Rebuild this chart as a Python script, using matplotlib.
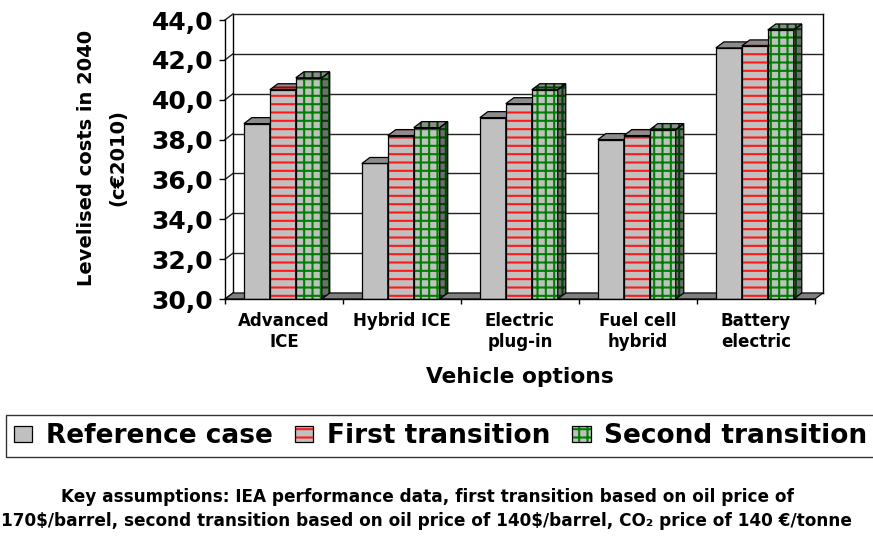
import matplotlib
matplotlib.use("Agg")
import matplotlib.pyplot as plt
from matplotlib.patches import Polygon, Patch
from matplotlib.legend_handler import HandlerTuple

# ------------------------------------------------
# Data
# ------------------------------------------------
categories = ["Advanced\nICE", "Hybrid ICE", "Electric\nplug-in", "Fuel cell\nhybrid", "Battery\nelectric"]
series = ["Reference case", "First transition", "Second transition"]
reference = [38.8, 36.8, 39.1, 38.0, 42.6]
first = [40.5, 38.2, 39.8, 38.2, 42.7]
second = [41.1, 38.6, 40.5, 38.5, 43.5]
yticks = [30, 32, 34, 36, 38, 40, 42, 44]
ytick_labels = [f"{v:.1f}".replace(".", ",") for v in yticks]

# styles per series: face, hatch colour, hatch, top/side hatch colour
face = "#c0c0c0"
hatch_col = ["#c0c0c0", "#ff1a1a", "#008000"]
dark_col = ["#8c8c8c", "#a00000", "#004000"]
hatches = ["", "--", "++"]

plt.rcParams["font.family"] = "DejaVu Sans"
plt.rcParams["font.weight"] = "bold"
plt.rcParams["hatch.linewidth"] = 1.5

W, H = 873, 540
fig = plt.figure(figsize=(W / 100, H / 100), dpi=100)
fig.patch.set_facecolor("white")

# front axis frame in pixels
x_left, x_right, y_bot, y_top = 225, 815, 299, 20
ax = fig.add_axes([x_left / W, 1 - y_bot / H, (x_right - x_left) / W, (y_bot - y_top) / H])
ymin, ymax = 30, 44
ax.set_xlim(0, len(categories))
ax.set_ylim(ymin, ymax)
ax.patch.set_visible(False)

# 3D depth offsets in data units
ddx = 8 / ((x_right - x_left) / len(categories))
ddy = 6 / ((y_bot - y_top) / (ymax - ymin))


def poly(pts, fc, ec="none", lw=0, hatch=None, z=1):
    p = Polygon(pts, closed=True, facecolor=fc, edgecolor=ec, linewidth=lw,
                hatch=hatch, zorder=z, clip_on=False)
    ax.add_patch(p)


n = len(categories)
# back wall, side wall gridlines
for v in yticks:
    ax.plot([ddx, n + ddx], [v + ddy, v + ddy], color="#222222", lw=1, zorder=0.5, clip_on=False)
    ax.plot([0, ddx], [v, v + ddy], color="#222222", lw=1, zorder=0.5, clip_on=False)
ax.plot([ddx, ddx], [ymin + ddy, ymax + ddy], color="black", lw=1, zorder=0.5, clip_on=False)
ax.plot([n + ddx, n + ddx], [ymin + ddy, ymax + ddy], color="black", lw=1, zorder=0.5, clip_on=False)

# floor
poly([(0, ymin), (n, ymin), (n + ddx, ymin + ddy), (ddx, ymin + ddy)], "#808080", "black", 0.8, z=1)

# bars
off, w = 0.16, 0.22
values = [reference, first, second]
z = 3
for i in range(n):
    for j, vals in enumerate(values):
        x0 = i + off + j * w
        x1 = x0 + w
        v = vals[i]
        h = hatches[j] if hatches[j] else None
        # front face
        ax.bar(x0, v - ymin, bottom=ymin, width=w, align="edge", color=face,
               edgecolor=hatch_col[j], linewidth=0, hatch=h, zorder=z)
        ax.bar(x0, v - ymin, bottom=ymin, width=w, align="edge", fill=False,
               edgecolor="black", linewidth=0.9, zorder=z + 0.001)
        # top face
        top = [(x0, v), (x0 + ddx, v + ddy), (x1 + ddx, v + ddy), (x1, v)]
        poly(top, "#8c8c8c", dark_col[j], 0, h, z + 0.002)
        poly(top, "none", "black", 0.9, None, z + 0.003)
        # side face
        side = [(x1, ymin), (x1 + ddx, ymin + ddy), (x1 + ddx, v + ddy), (x1, v)]
        poly(side, "#6e6e6e", dark_col[j], 0, h, z + 0.002)
        poly(side, "none", "black", 0.9, None, z + 0.003)
        z += 0.01

# axes, ticks
for s in ["top", "right"]:
    ax.spines[s].set_visible(False)
for s in ["left", "bottom"]:
    ax.spines[s].set_linewidth(1)
    ax.spines[s].set_zorder(10)
ax.set_yticks(yticks)
ax.set_yticklabels(ytick_labels, fontsize=18, fontweight="bold")
ax.tick_params(axis="y", direction="out", length=4.3, width=1, pad=4)
ax.set_xticks(range(n + 1))
ax.set_xticklabels([])
ax.set_xticks([i + 0.5 for i in range(n)], minor=True)
ax.set_xticklabels(categories, minor=True, fontsize=12, fontweight="bold", linespacing=1.25)
ax.tick_params(axis="x", which="major", direction="out", length=3.6, width=1)
ax.tick_params(axis="x", which="minor", length=0, pad=9)

fig.text(102 / W, 1 - 158 / H, "Levelised costs in 2040\n(c€2010)", rotation=90,
         ha="center", va="center", fontsize=14, fontweight="bold", linespacing=1.8,
         multialignment="center")
fig.text(520 / W, 1 - 377 / H, "Vehicle options", ha="center", va="center",
         fontsize=15.7, fontweight="bold")

# legend
handles = []
for j in range(3):
    base = Patch(facecolor=face, edgecolor=hatch_col[j], linewidth=0,
                 hatch=hatches[j] if hatches[j] else None)
    outline = Patch(fill=False, edgecolor="black", linewidth=0.9)
    handles.append((base, outline))
fig.legend(handles, series, handler_map={tuple: HandlerTuple(ndivide=1, pad=0)},
           loc="upper left", bbox_to_anchor=(6 / W, 1 - 415 / H), ncol=3,
           prop={"size": 19, "weight": "bold"}, frameon=True, fancybox=False,
           edgecolor="black", borderpad=0.3, handlelength=0.7, handleheight=0.55,
           handletextpad=0.5, columnspacing=0.85, borderaxespad=0)

fig.text(427 / W, 1 - 497 / H,
         "Key assumptions: IEA performance data, first transition based on oil price of",
         ha="center", va="center", fontsize=12.2, fontweight="bold")
fig.text(1 / W, 1 - 521 / H,
         "170\\$/barrel, second transition based on oil price of 140\\$/barrel, CO\u2082 price of 140 \u20ac/tonne",
         ha="left", va="center", fontsize=12.2, fontweight="bold")

fig.savefig("out.png", dpi=100)
